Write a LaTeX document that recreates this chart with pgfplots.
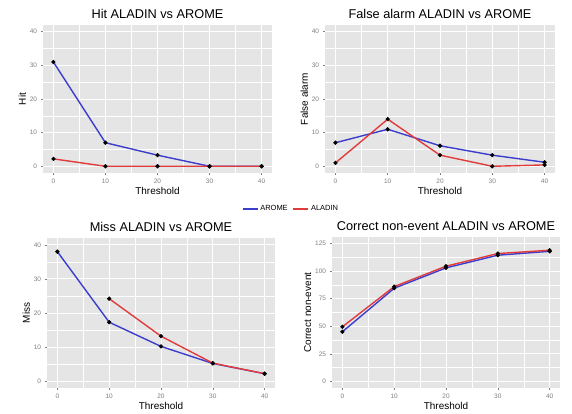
\documentclass[border=0pt]{standalone}
\usepackage{fontspec}
\setmainfont{Liberation Sans}
\usepackage{pgfplots}
\pgfplotsset{compat=1.18}
\definecolor{panelbg}{RGB}{229,229,229}
\definecolor{arome}{RGB}{60,60,205}
\definecolor{aladin}{RGB}{225,60,60}
\definecolor{tickgray}{RGB}{127,127,127}
\pgfplotsset{ggstyle/.style={
  scale only axis,
  xmin=-2, xmax=42,
  xtick={0,10,20,30,40},
  minor xtick={5,15,25,35},
  axis background/.style={fill=panelbg},
  axis line style={draw=none},
  grid=both,
  major grid style={white, line width=0.9pt},
  minor grid style={white, line width=0.4pt},
  tick align=outside,
  major tick length=2.5pt,
  minor tick length=0pt,
  xtick pos=bottom, ytick pos=left,
  tick style={tickgray, line width=0.5pt},
  ticklabel style={font=\fontsize{6.5}{7}\selectfont, text=tickgray},
  /pgf/number format/assume math mode=true,
  xlabel=Threshold,
  xlabel style={font=\fontsize{10}{12}\selectfont, yshift=3pt},
  ylabel style={font=\fontsize{10}{12}\selectfont, yshift=-3pt},
  title style={font=\fontsize{12.8}{14}\selectfont, yshift=-3pt},
  every axis plot/.append style={line width=1.4pt, mark=*, mark size=1.3pt, mark options={fill=black, draw=black}},
}}
\begin{document}
\begin{tikzpicture}
\useasboundingbox (0,0) rectangle (572bp,-414bp);
% Panel 1: Hit
\begin{axis}[ggstyle, at={(43bp,-173bp)}, anchor=south west, width=229bp, height=148bp,
  ymin=-2, ymax=42, ytick={0,10,20,30,40}, minor ytick={5,15,25,35},
  ylabel=Hit, title={Hit ALADIN vs AROME},
  legend style={at={(1.083,-0.243)}, anchor=center, draw=none, fill=none, legend columns=2,
    font=\fontsize{7.5}{8}\selectfont, /tikz/every even column/.append style={column sep=3pt}},
  legend image code/.code={\draw[#1, mark=none] (0bp,0bp) -- (15bp,0bp);}]
\addlegendimage{arome, line width=1.4pt}
\addlegendentry{AROME}
\addlegendimage{aladin, line width=1.4pt}
\addlegendentry{ALADIN}
\addplot[arome, forget plot] coordinates {(0,31) (10,7) (20,3.3) (30,0) (40,0)};
\addplot[aladin, forget plot] coordinates {(0,2.2) (10,0) (20,0) (30,0) (40,0)};
\end{axis}
% Panel 2: False alarm
\begin{axis}[ggstyle, at={(325bp,-173bp)}, anchor=south west, width=230bp, height=148bp,
  ymin=-2, ymax=42, ytick={0,10,20,30,40}, minor ytick={5,15,25,35},
  ylabel={False alarm}, title={False alarm  ALADIN vs AROME}]
\addplot[arome] coordinates {(0,7) (10,11) (20,6.1) (30,3.3) (40,1.2)};
\addplot[aladin] coordinates {(0,1) (10,14) (20,3.3) (30,0) (40,0.4)};
\end{axis}
% Panel 3: Miss
\begin{axis}[ggstyle, at={(47bp,-388bp)}, anchor=south west, width=228bp, height=150bp,
  ymin=-2, ymax=42, ytick={0,10,20,30,40}, minor ytick={5,15,25,35},
  ylabel={Miss}, title={Miss  ALADIN vs AROME}]
\addplot[arome] coordinates {(0,38) (10,17.3) (20,10.2) (30,5.2) (40,2.2)};
\addplot[aladin] coordinates {(10,24.2) (20,13.2) (30,5.3) (40,2.2)};
\end{axis}
% Panel 4: Correct non-event
\begin{axis}[ggstyle, at={(332bp,-388bp)}, anchor=south west, width=228bp, height=151bp,
  ymin=-6, ymax=131, ytick={0,25,50,75,100,125}, minor ytick={12.5,37.5,62.5,87.5,112.5},
  ylabel={Correct non-event}, title={Correct non-event  ALADIN vs AROME}]
\addplot[arome] coordinates {(0,45) (10,84.5) (20,103) (30,114.5) (40,118)};
\addplot[aladin] coordinates {(0,49.5) (10,86) (20,104.5) (30,116) (40,119)};
\end{axis}
\end{tikzpicture}
\end{document}
